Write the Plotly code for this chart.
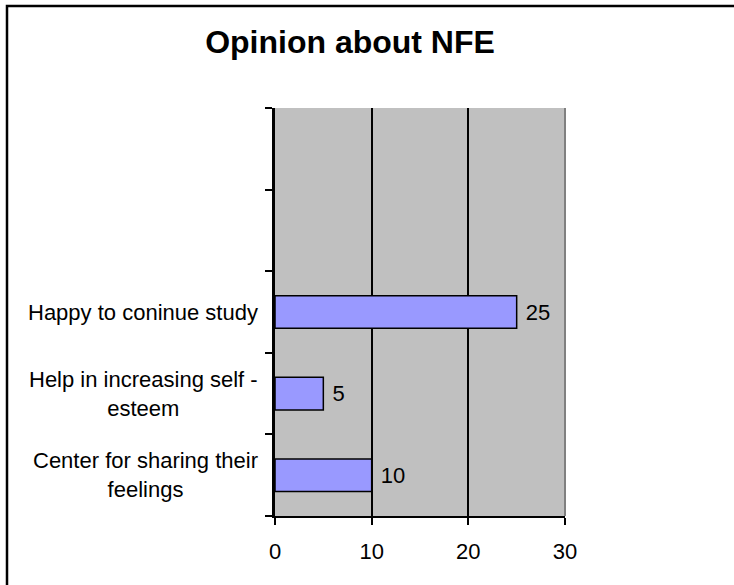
import plotly.graph_objects as go

categories = ["Center for sharing their feelings", "Help in increasing self - esteem", "Happy to coninue study"]
label_text = ["Center for sharing their<br>feelings", "Help in increasing self -<br>esteem", "Happy to coninue study"]
values = [10, 5, 25]
empty_slots = ["", " "]
x_ticks = [0, 10, 20, 30]

cat_order = categories + empty_slots
FONT = "Liberation Sans, Arial, sans-serif"

fig = go.Figure()
fig.add_trace(go.Bar(
    y=categories, x=values, orientation="h",
    marker=dict(color="#9999FF", line=dict(color="black", width=1.5)),
    width=0.4,
    text=["\u00a0" + str(v) for v in values], textposition="outside",
    textfont=dict(family=FONT, size=22, color="black"),
    cliponaxis=False,
))

for lab, cat in zip(label_text, categories):
    fig.add_annotation(x=0, xref="paper", y=cat, yref="y", text=lab,
                       showarrow=False, xanchor="right", align="center",
                       xshift=-15,
                       font=dict(family=FONT, size=22, color="black"))

W, H = 734, 585
L, R, T, B = 275, 565, 108, 516
# chart-area frame (only its left and top edges fall inside the picture)
fig.add_shape(type="rect", xref="paper", yref="paper",
              x0=(7 - L) / (R - L), x1=(745 - L) / (R - L),
              y0=(B - 600) / (B - T), y1=(B - 6) / (B - T),
              line=dict(color="black", width=2.5), fillcolor="rgba(0,0,0,0)", layer="below")
# plot-area right border (grey)
fig.add_shape(type="line", xref="paper", yref="paper", x0=1, x1=1, y0=0, y1=1,
              line=dict(color="#808080", width=2), layer="above")

fig.update_layout(
    width=W, height=H,
    margin=dict(l=L, r=W - R, t=T, b=H - B),
    paper_bgcolor="white", plot_bgcolor="#C0C0C0",
    showlegend=False,
    title=dict(text="<b>Opinion about NFE</b>", x=350 / W, xref="container", xanchor="center",
               y=1 - 42 / H, yref="container", yanchor="middle",
               font=dict(family=FONT, size=32, color="black")),
    font=dict(family=FONT, size=22, color="black"),
)
fig.update_xaxes(range=[0, 30], tickvals=x_ticks, showgrid=True, gridcolor="black", gridwidth=1.5,
                 ticks="outside", ticklen=7, tickcolor="black", tickwidth=1.5,
                 showline=True, linecolor="black", linewidth=2, zeroline=False,
                 ticklabelstandoff=8,
                 tickfont=dict(family=FONT, size=22, color="black"), fixedrange=True)
fig.update_yaxes(type="category", categoryorder="array", categoryarray=cat_order,
                 range=[-0.5, 4.5], showticklabels=False, tickson="boundaries",
                 ticks="outside", ticklen=7, tickcolor="black", tickwidth=1.5,
                 showline=True, linecolor="black", linewidth=2.5, showgrid=False, zeroline=False)

fig.write_html("out.html")
